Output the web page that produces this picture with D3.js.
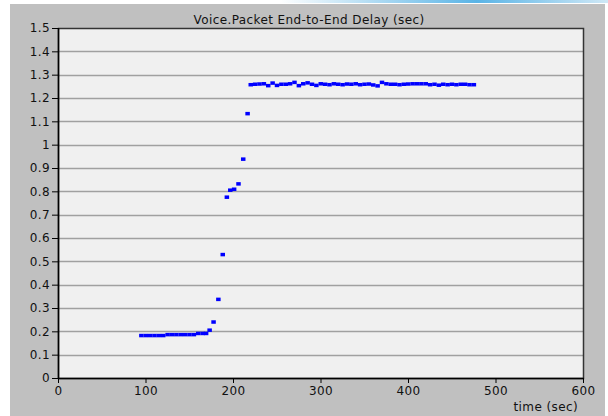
<!DOCTYPE html>
<html><head><meta charset="utf-8">
<script src="https://cdn.jsdelivr.net/npm/d3@7/dist/d3.min.js"></script>
<style>body{margin:0;background:#fff;}svg{display:block;}</style>
</head><body>
<svg id="chart" width="608" height="416"></svg>
<script>
const title = "Voice.Packet End-to-End Delay (sec)";
const xLabel = "time (sec)";
const xTicks = [0, 100, 200, 300, 400, 500, 600];
const yTicks = [0, 0.1, 0.2, 0.3, 0.4, 0.5, 0.6, 0.7, 0.8, 0.9, 1, 1.1, 1.2, 1.3, 1.4, 1.5];

const times = [95, 100, 105, 110, 115, 120, 125, 130, 135, 140, 145, 150, 155, 160, 165, 169,
  173, 177.5, 183, 188, 192.7, 196.6, 201, 206, 211.4, 216.4,
  220, 225, 230, 235, 240, 245, 250, 255, 260, 265, 270, 275, 280, 285, 290, 295, 300, 305, 310, 315,
  320, 325, 330, 335, 340, 345, 350, 355, 360, 365, 370, 375, 380, 385, 390, 395, 400, 405, 410, 415,
  420, 425, 430, 435, 440, 445, 450, 455, 460, 465, 470, 475];
const delays = [0.183, 0.183, 0.183, 0.183, 0.183, 0.183, 0.187, 0.187, 0.187, 0.187, 0.187, 0.187, 0.187, 0.192, 0.192, 0.192,
  0.206, 0.241, 0.338, 0.530, 0.776, 0.806, 0.810, 0.833, 0.939, 1.134,
  1.258, 1.260, 1.261, 1.262, 1.254, 1.265, 1.255, 1.260, 1.260, 1.262, 1.268, 1.254, 1.262, 1.266, 1.260, 1.255, 1.262, 1.260, 1.258, 1.262,
  1.260, 1.258, 1.261, 1.260, 1.262, 1.258, 1.260, 1.261, 1.257, 1.253, 1.268, 1.262, 1.260, 1.260, 1.258, 1.260, 1.261, 1.262, 1.262, 1.262,
  1.262, 1.258, 1.260, 1.256, 1.260, 1.258, 1.260, 1.258, 1.260, 1.260, 1.258, 1.258];

const svg = d3.select("#chart");
const font = "'DejaVu Sans', Verdana, sans-serif";
const fsize = "12px";
const lspace = "0.4px";

// top decorative strip
const defs = svg.append("defs");
const grad = defs.append("linearGradient").attr("id", "strip").attr("x1", "0").attr("x2", "1");
grad.append("stop").attr("offset", "0").attr("stop-color", "#ffffff");
grad.append("stop").attr("offset", "0.6").attr("stop-color", "#5ab4e6");
grad.append("stop").attr("offset", "1").attr("stop-color", "#cfe8f6");
svg.append("rect").attr("x", 280).attr("y", 0).attr("width", 328).attr("height", 3).attr("fill", "url(#strip)");

// outer gray panel
svg.append("rect").attr("x", 10).attr("y", 4).attr("width", 595).attr("height", 412).attr("fill", "#c0c0c0");

const m = {left: 58, right: 583, top: 28, bottom: 378};
const x = d3.scaleLinear().domain([0, 600]).range([m.left, m.right]);
const y = d3.scaleLinear().domain([0, 1.5]).range([m.bottom, m.top]);

svg.append("rect").attr("x", m.left).attr("y", m.top)
  .attr("width", m.right - m.left).attr("height", m.bottom - m.top).attr("fill", "#f0f0f0");

// gridlines
svg.append("g").selectAll("line").data(yTicks.filter(d => d > 0 && d < 1.5)).join("line")
  .attr("x1", m.left).attr("x2", m.right)
  .attr("y1", d => Math.round(y(d)) + 0.5).attr("y2", d => Math.round(y(d)) + 0.5)
  .attr("stroke", "#a0a0a0").attr("stroke-width", 1.5);

// plot border
svg.append("rect").attr("x", m.left + 0.5).attr("y", m.top + 0.5)
  .attr("width", m.right - m.left).attr("height", m.bottom - m.top)
  .attr("fill", "none").attr("stroke", "#333").attr("stroke-width", 1.5);

// axes
const yAxis = d3.axisLeft(y).tickValues(yTicks).tickSize(6).tickPadding(2)
  .tickFormat(d => d3.format("~g")(d));
const gy = svg.append("g").attr("transform", `translate(${m.left},0)`).call(yAxis);
const xAxis = d3.axisBottom(x).tickValues(xTicks).tickSize(5).tickPadding(3).tickFormat(d3.format("d"));
const gx = svg.append("g").attr("transform", `translate(0,${m.bottom})`).call(xAxis);
[gy, gx].forEach(g => {
  g.selectAll("line").attr("stroke", "#000");
  g.selectAll("text").attr("fill", "#111").style("font-family", font).style("font-size", fsize)
    .style("letter-spacing", lspace);
});
gy.select(".domain").remove();
gx.select(".domain").remove();
svg.append("line").attr("x1", m.left + 0.5).attr("x2", m.left + 0.5).attr("y1", m.top).attr("y2", m.bottom + 1)
  .attr("stroke", "#000").attr("stroke-width", 1.5);
svg.append("line").attr("x1", m.left).attr("x2", m.right + 1).attr("y1", m.bottom + 0.5).attr("y2", m.bottom + 0.5)
  .attr("stroke", "#000").attr("stroke-width", 1.5);

// data points
const pts = times.map((t, i) => ({t, v: delays[i]}));
svg.append("g").selectAll("rect").data(pts).join("rect")
  .attr("x", d => x(d.t) - 2).attr("y", d => y(d.v) - 1.5)
  .attr("width", 4.5).attr("height", 3.5).attr("fill", "#0000ff");

// title and x label
svg.append("text").attr("x", 309).attr("y", 24).attr("text-anchor", "middle")
  .style("font-family", font).style("font-size", fsize).style("letter-spacing", lspace)
  .attr("fill", "#111").text(title);
svg.append("text").attr("x", 578).attr("y", 411).attr("text-anchor", "end")
  .style("font-family", font).style("font-size", fsize).style("letter-spacing", lspace)
  .attr("fill", "#111").text(xLabel);
</script>
</body></html>
